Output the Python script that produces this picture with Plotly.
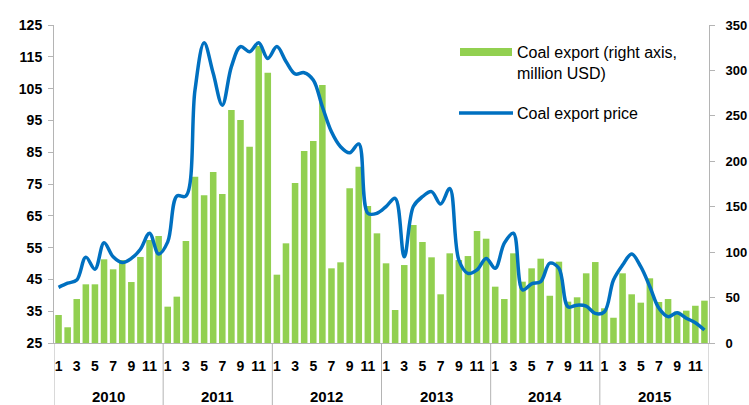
import plotly.graph_objects as go

years = [2010, 2011, 2012, 2013, 2014, 2015]
months = list(range(1, 13))

coal_export = [
    30.8, 17.3, 48.4, 64.6, 64.6, 92.1, 81.1, 91.3, 67.1, 94.7, 113.4, 117.8,
    40.0, 51.0, 112.3, 183.0, 162.6, 188.2, 164.0, 256.4, 245.4, 216.0, 327.0, 297.5,
    75.2, 109.7, 176.0, 211.3, 222.3, 284.0, 82.2, 88.8, 170.4, 194.0, 150.8, 120.7,
    87.7, 36.3, 85.8, 129.9, 111.2, 94.3, 53.6, 98.7, 91.3, 95.7, 123.3, 114.8,
    62.0, 48.4, 98.7, 67.5, 82.2, 92.8, 52.0, 89.5, 45.5, 50.3, 76.7, 89.1,
    38.2, 27.8, 76.7, 53.6, 44.4, 71.2, 45.1, 48.4, 34.5, 35.6, 41.0, 46.6,
]
coal_price = [
    42.5, 43.8, 44.8, 52.0, 48.2, 56.5, 52.1, 50.3, 51.6, 54.5, 59.5, 53.0,
    56.8, 71.2, 71.2, 104.6, 119.4, 109.8, 99.8, 111.9, 118.2, 116.6, 119.4, 114.5,
    118.2, 113.5, 109.6, 110.0, 107.7, 99.3, 91.4, 86.7, 84.8, 87.6, 65.8, 65.8,
    67.9, 70.5, 52.1, 67.9, 71.0, 72.6, 68.7, 73.6, 51.1, 46.9, 48.0, 51.6,
    48.5, 56.4, 59.5, 41.7, 43.6, 44.3, 50.1, 48.5, 36.4, 36.9, 36.6, 34.3,
    34.8, 44.8, 49.5, 53.0, 49.0, 42.7, 35.9, 33.3, 34.5, 32.8, 31.4, 29.1,
]
left_ticks = [25, 35, 45, 55, 65, 75, 85, 95, 105, 115, 125]
right_ticks = [0, 50, 100, 150, 200, 250, 300, 350]

series_names = ["Coal export (right axis,<br>million USD)", "Coal export price"]

GREEN = "#92D050"
BLUE = "#0070C0"
GRAY = "#B4B4B4"
FONT = "Liberation Sans, Arial, sans-serif"

x_idx = list(range(len(coal_export)))
month_of = [m for y in years for m in months]
tickvals = [i for i in x_idx if month_of[i] % 2 == 1]
ticktext = [str(month_of[i]) for i in tickvals]

fig = go.Figure()
fig.add_trace(go.Bar(
    x=x_idx, y=coal_export, yaxis="y", marker=dict(color=GREEN, line_width=0),
    name="Coal export (right axis, million USD)", showlegend=False,
))
fig.add_trace(go.Scatter(
    x=x_idx, y=coal_price, yaxis="y2", mode="lines",
    line=dict(color=BLUE, width=3.5, shape="spline", smoothing=1.0),
    name="Coal export price", showlegend=False,
))

n = len(x_idx)
fig.update_layout(
    width=749, height=405, autosize=False,
    margin=dict(l=54, r=40, t=25, b=62),
    paper_bgcolor="white", plot_bgcolor="white",
    bargap=0.28,
    font=dict(family=FONT, color="black"),
    xaxis=dict(
        range=[-0.5, n - 0.5], tickmode="array", tickvals=tickvals, ticktext=ticktext,
        showgrid=False, zeroline=False, showline=True, linecolor=GRAY, linewidth=1,
        ticks="", ticklabelstandoff=10, automargin=False,
        tickfont=dict(size=14, weight="bold", family=FONT),
    ),
    yaxis=dict(
        side="right", range=[0, 350], tickvals=right_ticks, automargin=False,
        showgrid=False, zeroline=False, showline=True, linecolor=GRAY, linewidth=1,
        ticks="outside", ticklen=5, tickcolor=GRAY, ticklabelstandoff=8,
        tickfont=dict(size=13, weight="bold", family=FONT),
    ),
    yaxis2=dict(
        overlaying="y", side="left", range=[25, 125], tickvals=left_ticks, automargin=False,
        showgrid=False, zeroline=False, showline=True, linecolor=GRAY, linewidth=1,
        ticks="outside", ticklen=5, tickcolor=GRAY, ticklabelstandoff=3,
        tickfont=dict(size=14, weight="bold", family=FONT),
    ),
)

# year group separators and year labels
bottom = -62 / 318
for k in range(len(years) + 1):
    fig.add_shape(type="line", xref="x", yref="paper", x0=12 * k - 0.5, x1=12 * k - 0.5,
                  y0=0, y1=bottom, line=dict(color=GRAY, width=1))
for k, yr in enumerate(years):
    fig.add_annotation(x=12 * k + 5.5, y=-53 / 318, xref="x", yref="paper",
                       text=str(yr), showarrow=False, yanchor="middle",
                       font=dict(size=15, weight="bold", family=FONT))

# custom legend
def px_x(p):
    return (p - 54) / 655

def px_y(p):
    return (343 - p) / 318

fig.add_shape(type="rect", xref="paper", yref="paper", x0=px_x(460), x1=px_x(512),
              y0=px_y(56), y1=px_y(48), fillcolor=GREEN, line_width=0)
fig.add_shape(type="line", xref="paper", yref="paper", x0=px_x(459), x1=px_x(513),
              y0=px_y(113), y1=px_y(113), line=dict(color=BLUE, width=3.5))
fig.add_annotation(x=px_x(515), y=px_y(62.5), xref="paper", yref="paper",
                   text=series_names[0], showarrow=False, xanchor="left", yanchor="middle",
                   align="left", font=dict(size=16, family=FONT))
fig.add_annotation(x=px_x(515), y=px_y(113), xref="paper", yref="paper",
                   text=series_names[1], showarrow=False, xanchor="left", yanchor="middle",
                   align="left", font=dict(size=16, family=FONT))

post = ("document.documentElement.style.margin='0';document.body.style.margin='0';"
        "document.body.style.padding='0';document.body.style.overflow='hidden';"
        "Plotly.relayout('{plot_id}', {width: 749, height: 405});")
fig.write_html("out.html", config={"responsive": False, "displayModeBar": False},
               post_script=post)
